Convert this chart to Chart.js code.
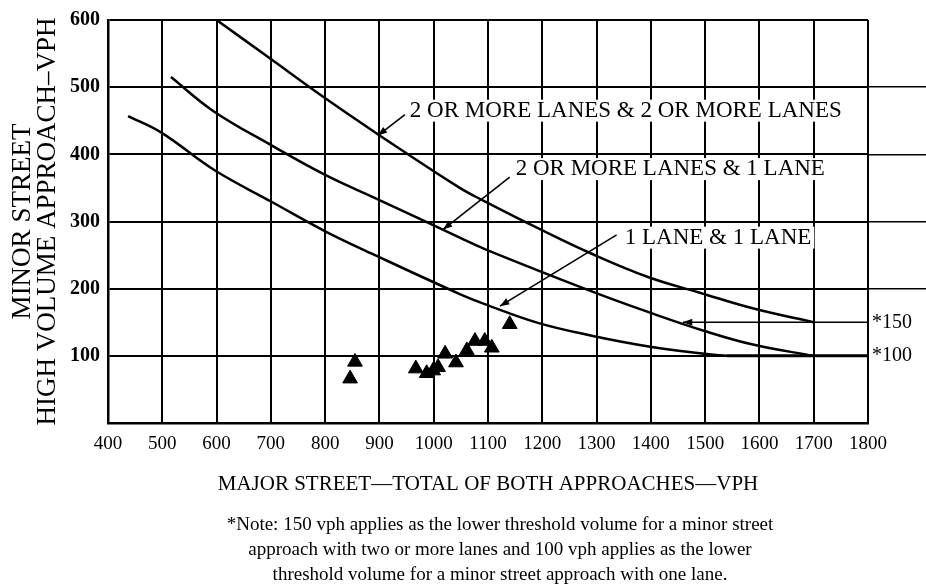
<!DOCTYPE html>
<html>
<head>
<meta charset="utf-8">
<script src="https://cdn.jsdelivr.net/npm/chart.js@4.4.0/dist/chart.umd.min.js"></script>
<style>
  html, body { margin: 0; padding: 0; background: #fff; }
  #wrap { width: 926px; height: 585px; }
</style>
</head>
<body>
<div id="wrap"><canvas id="chart" width="926" height="585"></canvas></div>
<script>
// --- DATA ---
const xTicks = [400, 500, 600, 700, 800, 900, 1000, 1100, 1200, 1300, 1400, 1500, 1600, 1700, 1800];
const yTicks = [0, 100, 200, 300, 400, 500, 600];
const yOverhang = [200, 300, 400, 500];   // grid lines that run past the right border in the scan

// 2 or more lanes & 2 or more lanes
const curve22X = [600, 693, 801, 897, 1048, 1094, 1192, 1291, 1396, 1490, 1591, 1700];
const curve22Y = [600, 546, 483, 430, 350, 330, 290, 252, 217, 194, 170, 150];
// 2 or more lanes & 1 lane
const curve21X = [516, 593, 702, 801, 897, 1048, 1094, 1291, 1396, 1499, 1592, 1700];
const curve21Y = [515, 465, 413, 369, 333, 276, 259, 196, 165, 137, 116, 100];
// 1 lane & 1 lane
const curve11X = [437, 499, 595, 702, 801, 897, 1048, 1094, 1192, 1291, 1396, 1499, 1540];
const curve11Y = [457, 432, 377, 329, 285, 248, 192, 177, 149, 130, 114, 103, 100];

// lower threshold (one lane minor approach)
const thr100X = [1540, 1800];
const thr100Y = [100, 100];

// observed counts (triangles)
const obsX = [846, 855, 967, 987, 999, 1008, 1021, 1041, 1061, 1076, 1094, 1107, 1140];
const obsY = [66, 91, 81, 74, 78, 83, 103, 90, 108, 122, 122, 112, 147];

// curve labels + pointer arrows
const curveLabels = ['2 OR MORE LANES & 2 OR MORE LANES', '2 OR MORE LANES & 1 LANE', '1 LANE & 1 LANE'];
const labelX = [956, 1151, 1352];
const labelY = [465, 378, 276];
const arrowTailX = [947, 1140, 1337, 1800];
const arrowTailY = [459, 366, 280, 150];
const arrowHeadX = [897, 1017, 1122, 1459];
const arrowHeadY = [428, 288, 174, 150];

const thrLabels = ['*150', '*100'];
const thrValues = [150, 100];

const noteLines = [
    '*Note: 150 vph applies as the lower threshold volume for a minor street',
    'approach with two or more lanes and 100 vph applies as the lower',
    'threshold volume for a minor street approach with one lane.'
];

const SERIF = "'Liberation Serif', 'DejaVu Serif', serif";
const zip = (xs, ys) => xs.map((x, i) => ({ x: x, y: ys[i] }));

function curve(xs, ys, w) {
    return {
        type: 'line', data: zip(xs, ys), borderColor: '#000', borderWidth: w,
        pointRadius: 0, fill: false, tension: 0.4
    };
}

const datasets = [
    curve(curve22X, curve22Y, 2.5),
    curve(curve21X, curve21Y, 2.5),
    curve(curve11X, curve11Y, 2.5),
    curve(thr100X, thr100Y, 3)
];
// arrow shafts
arrowTailX.forEach((x, i) => {
    datasets.push({
        type: 'line', data: [{ x: x, y: arrowTailY[i] }, { x: arrowHeadX[i], y: arrowHeadY[i] }],
        borderColor: '#000', borderWidth: 1.6, pointRadius: 0, fill: false, tension: 0
    });
});
datasets.push({
    type: 'scatter', data: zip(obsX, obsY), pointStyle: 'triangle',
    pointRadius: 8.5, backgroundColor: '#000', borderColor: '#000', borderWidth: 1
});

// --- TEXT + ARROWHEADS ---
const annotate = {
    id: 'annotate',
    afterDatasetsDraw(chart) {
        const ctx = chart.ctx, xs = chart.scales.x, ys = chart.scales.y;
        ctx.save();
        ctx.fillStyle = '#000';
        // arrowheads
        arrowHeadX.forEach((hx, i) => {
            const px = xs.getPixelForValue(hx), py = ys.getPixelForValue(arrowHeadY[i]);
            const tx = xs.getPixelForValue(arrowTailX[i]), ty = ys.getPixelForValue(arrowTailY[i]);
            const a = Math.atan2(py - ty, px - tx);
            ctx.beginPath();
            ctx.moveTo(px, py);
            ctx.lineTo(px - 10 * Math.cos(a - 0.35), py - 10 * Math.sin(a - 0.35));
            ctx.lineTo(px - 10 * Math.cos(a + 0.35), py - 10 * Math.sin(a + 0.35));
            ctx.closePath();
            ctx.fill();
        });
        ctx.font = '23px ' + SERIF;
        ctx.textBaseline = 'middle';
        ctx.textAlign = 'left';
        curveLabels.forEach((t, i) => {
            const px = xs.getPixelForValue(labelX[i]), py = ys.getPixelForValue(labelY[i]);
            const w = ctx.measureText(t).width;
            ctx.fillStyle = '#fff';
            ctx.fillRect(px - 3, py - 11, w + 6, 22);
            ctx.fillStyle = '#000';
            ctx.fillText(t, px, py);
        });
        ctx.font = '20px ' + SERIF;
        thrLabels.forEach((t, i) => {
            ctx.fillText(t, chart.chartArea.right + 4, ys.getPixelForValue(thrValues[i]));
        });
        // footnote
        ctx.font = '19px ' + SERIF;
        ctx.textAlign = 'center';
        noteLines.forEach((t, i) => {
            ctx.fillText(t, 500, 525 + i * 25);
        });
        ctx.restore();
    }
};

new Chart(document.getElementById('chart'), {
    type: 'scatter',
    data: { datasets: datasets },
    plugins: [annotate],
    options: {
        responsive: false,
        animation: false,
        layout: { padding: { top: 16, right: 0, bottom: 78, left: 0 } },
        plugins: {
            legend: { display: false },
            tooltip: { enabled: false }
        },
        scales: {
            x: {
                type: 'linear', min: 400, max: 1800,
                afterBuildTicks: s => { s.ticks = xTicks.map(v => ({ value: v })); },
                afterFit: s => { s.height = 84; },
                grid: { color: '#000', lineWidth: 2, drawTicks: false },
                border: { color: '#000', width: 2.5 },
                ticks: {
                    color: '#000', padding: 10, maxRotation: 0,
                    font: { family: SERIF, size: 19 }, callback: v => String(v)
                },
                title: {
                    display: true, text: 'MAJOR STREET\u2014TOTAL OF BOTH APPROACHES\u2014VPH', color: '#000',
                    font: { family: SERIF, size: 21 }, padding: { top: 0, bottom: 10 }
                }
            },
            y: {
                type: 'linear', min: 0, max: 600,
                afterBuildTicks: s => { s.ticks = yTicks.map(v => ({ value: v })); },
                afterFit: s => { s.width = 108; },
                grid: { color: '#000', lineWidth: 2, drawTicks: false },
                border: { color: '#000', width: 2.5 },
                ticks: {
                    color: '#000', padding: 8, font: { family: SERIF, size: 20, weight: 'bold' },
                    callback: v => v === 0 ? '' : String(v)
                },
                title: {
                    display: true, text: ['MINOR STREET', 'HIGH VOLUME APPROACH\u2013VPH'], color: '#000',
                    font: { family: SERIF, size: 27, lineHeight: 0.93 }, padding: { top: 10, bottom: 0 }
                }
            },
            y2: {
                type: 'linear', position: 'right', min: 0, max: 600,
                afterBuildTicks: s => { s.ticks = yOverhang.map(v => ({ value: v })); },
                afterFit: s => { s.width = 58; },
                grid: { drawOnChartArea: false, drawTicks: true, tickLength: 58, color: '#000', lineWidth: 1.5 },
                border: { display: false },
                ticks: { display: false }
            }
        }
    }
});
</script>
</body>
</html>
